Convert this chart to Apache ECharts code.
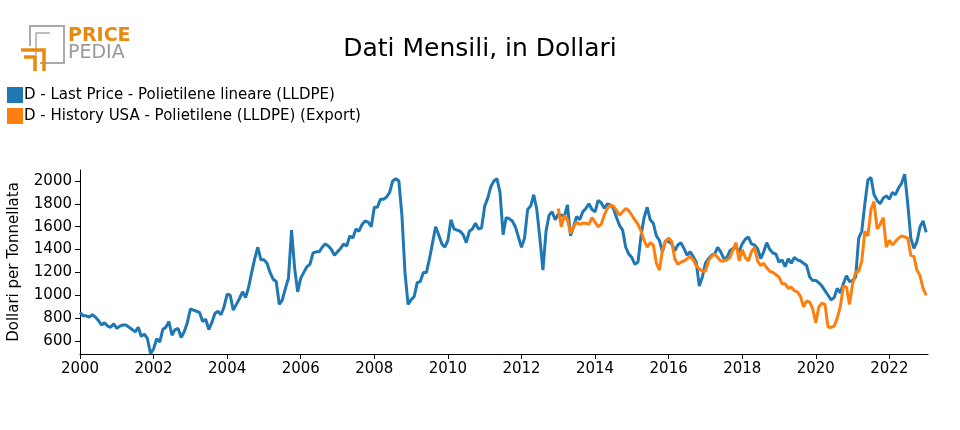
<!DOCTYPE html>
<html>
<head>
<meta charset="utf-8">
<script src="https://cdn.jsdelivr.net/npm/echarts@6/dist/echarts.min.js"></script>
<style>html,body{margin:0;padding:0;background:#fff}#chart{width:960px;height:430px}</style>
</head>
<body>
<div id="chart"></div>
<script>
// monthly values, starting January of the first year
const lastPriceStart = 2000;
const lastPrice = [
  850, 820, 820, 810, 830, 810, 780, 740, 760, 730, 720, 750,
  710, 730, 740, 740, 720, 700, 680, 720, 640, 660, 620, 490,
  530, 620, 590, 700, 720, 770, 650, 700, 710, 630, 680, 760,
  880, 870, 860, 850, 770, 790, 700, 760, 840, 860, 830, 900,
  1010, 1000, 870, 920, 970, 1030, 980, 1070, 1200, 1320, 1420, 1310,
  1310, 1280, 1200, 1140, 1120, 920, 960, 1060, 1150, 1570, 1240, 1030,
  1150, 1200, 1250, 1270, 1370, 1380, 1380, 1420, 1450, 1430, 1400, 1350,
  1380, 1410, 1450, 1430, 1520, 1500, 1580, 1560, 1620, 1650, 1640, 1600,
  1770, 1770, 1840, 1840, 1860, 1900, 2000, 2020, 2000, 1700, 1200, 920,
  960, 990, 1110, 1120, 1200, 1200, 1320, 1460, 1600, 1530, 1450, 1420,
  1480, 1660, 1580, 1570, 1560, 1530, 1460, 1560, 1580, 1630, 1580, 1590,
  1780, 1850, 1950, 2000, 2020, 1900, 1530, 1680, 1670, 1650, 1600, 1510,
  1420, 1500, 1750, 1780, 1880, 1750, 1500, 1220, 1560, 1700, 1730, 1660,
  1710, 1700, 1690, 1790, 1520, 1600, 1690, 1660, 1730, 1760, 1800, 1750,
  1730, 1830, 1810, 1760, 1800, 1790, 1760, 1680, 1610, 1570, 1420, 1360,
  1330, 1270, 1290, 1520, 1680, 1770, 1660, 1630, 1520, 1480, 1380, 1480,
  1470, 1450, 1390, 1440, 1460, 1410, 1350, 1380, 1340, 1290, 1080, 1160,
  1280, 1320, 1350, 1360, 1420, 1380, 1320, 1330, 1390, 1410, 1420, 1380,
  1450, 1490, 1510, 1450, 1440, 1410, 1320, 1380, 1460, 1400, 1370, 1360,
  1290, 1310, 1250, 1320, 1280, 1330, 1310, 1300, 1280, 1260, 1160, 1130,
  1130, 1110, 1080, 1040, 1000, 960, 980, 1060, 1020, 1100, 1170, 1120,
  1130, 1160, 1500, 1560, 1800, 2010, 2030, 1880, 1830, 1800, 1850, 1870,
  1840, 1900, 1880, 1940, 1980, 2060, 1800, 1500, 1410, 1470, 1600, 1650,
  1550
];
const historyStart = 2013;
const historyUsa = [
  1760, 1600, 1700, 1660, 1540, 1600, 1640, 1620, 1630, 1630, 1620, 1680,
  1640, 1600, 1620, 1700, 1760, 1790, 1780, 1740, 1700, 1730, 1760, 1740,
  1700, 1660, 1620, 1560, 1480, 1420, 1460, 1440, 1280, 1220, 1400, 1470,
  1500, 1470, 1320, 1270, 1290, 1300, 1320, 1340, 1310, 1260, 1230, 1210,
  1210, 1300, 1340, 1360, 1330, 1300, 1300, 1310, 1330, 1400, 1460, 1300,
  1400, 1330, 1300, 1380, 1420, 1300, 1260, 1280, 1240, 1210, 1200, 1180,
  1160, 1100, 1100, 1060, 1070, 1040, 1030, 990, 900, 950, 940, 880,
  760, 900, 930, 920, 720, 720, 730, 800, 900, 1080, 1070, 920,
  1100, 1200, 1210, 1300, 1560, 1520, 1750, 1820, 1580, 1620, 1680, 1420,
  1480, 1440, 1470, 1500, 1520, 1510, 1500, 1350, 1340, 1220, 1170, 1060,
  1000
];
const seriesNames = [
  'D - Last Price - Polietilene lineare (LLDPE)',
  'D - History USA - Polietilene (LLDPE) (Export)'
];

function toPoints(start, values) {
  return values.map((v, i) => [start + i / 12, v]);
}

const chart = echarts.init(document.getElementById('chart'));
const font = 'DejaVu Sans';

const option = {
  animation: false,
  textStyle: { fontFamily: font },
  title: {
    text: 'Dati Mensili, in Dollari',
    left: 'center',
    top: 32,
    textStyle: { fontSize: 25, fontWeight: 'normal', color: '#000', fontFamily: font }
  },
  legend: {
    orient: 'vertical',
    left: 2,
    top: 82,
    itemWidth: 16,
    itemHeight: 16,
    itemGap: 5,
    icon: 'rect',
    textStyle: { fontSize: 15, color: '#000', padding: [0, 0, 0, -4] },
    data: seriesNames
  },
  graphic: [
    { type: 'polyline', shape: { points: [[30, 46], [30, 26], [64, 26], [64, 63], [40, 63]] },
      style: { stroke: '#aaa', lineWidth: 2, fill: null } },
    { type: 'polyline', shape: { points: [[36, 55], [36, 33], [50, 33]] },
      style: { stroke: '#aaa', lineWidth: 1.5, fill: null } },
    { type: 'polyline', shape: { points: [[21, 50], [44, 50], [44, 71]] },
      style: { stroke: '#e98a10', lineWidth: 3.5, fill: null } },
    { type: 'polyline', shape: { points: [[24, 57], [35, 57], [35, 71]] },
      style: { stroke: '#e98a10', lineWidth: 3.5, fill: null } },
    { type: 'text', left: 68, top: 27,
      style: { text: 'PRICE', fill: '#e98a10', font: 'bold 19px "DejaVu Sans"' } },
    { type: 'text', left: 68, top: 44,
      style: { text: 'PEDIA', fill: '#999', font: '19px "DejaVu Sans"' } }
  ],
  grid: { left: 80, right: 32, top: 170, bottom: 76, containLabel: false, outerBoundsMode: 'none' },
  xAxis: {
    type: 'value',
    min: 2000,
    max: 2023.05,
    interval: 2,
    splitLine: { show: false },
    axisLine: { lineStyle: { color: '#000' } },
    axisTick: { lineStyle: { color: '#000' } },
    axisLabel: { color: '#000', fontSize: 15, showMaxLabel: false, formatter: v => String(v) }
  },
  yAxis: {
    type: 'value',
    min: 486,
    max: 2096,
    splitNumber: 8,
    name: 'Dollari per Tonnellata',
    nameLocation: 'middle',
    nameGap: 58,
    nameTextStyle: { fontSize: 15, color: '#000' },
    splitLine: { show: false },
    axisLine: { show: true, lineStyle: { color: '#000' } },
    axisTick: { show: true, lineStyle: { color: '#000' } },
    axisLabel: { color: '#000', fontSize: 15, showMinLabel: false, showMaxLabel: false, formatter: v => String(v) }
  },
  series: [
    {
      name: seriesNames[0],
      type: 'line',
      data: toPoints(lastPriceStart, lastPrice),
      showSymbol: false,
      lineStyle: { width: 3, color: '#1f77b4' },
      itemStyle: { color: '#1f77b4' }
    },
    {
      name: seriesNames[1],
      type: 'line',
      data: toPoints(historyStart, historyUsa),
      showSymbol: false,
      lineStyle: { width: 3, color: '#ff7f0e' },
      itemStyle: { color: '#ff7f0e' }
    }
  ]
};

chart.setOption(option);
</script>
</body>
</html>
